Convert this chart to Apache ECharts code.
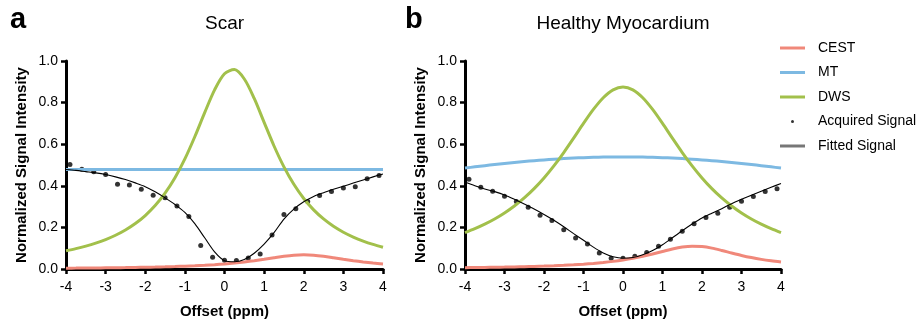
<!DOCTYPE html>
<html><head><meta charset="utf-8">
<script src="https://cdn.jsdelivr.net/npm/echarts@6/dist/echarts.min.js"></script>
<style>html,body{margin:0;padding:0;background:#fff}#c{width:921px;height:324px}</style>
</head><body><div id="c"></div>
<script>
// Offsets (ppm) for modelled curves
const offsets = [-4,-3.75,-3.5,-3.25,-3,-2.75,-2.5,-2.25,-2,-1.75,-1.5,-1.25,-1,-0.75,-0.5,-0.25,0,0.25,0.5,0.75,1,1.25,1.5,1.75,2,2.25,2.5,2.75,3,3.25,3.5,3.75,4];
// Offsets (ppm) for acquired samples
const acqOffsets = [-3.9,-3.6,-3.3,-3.0,-2.7,-2.4,-2.1,-1.8,-1.5,-1.2,-0.9,-0.6,-0.3,0,0.3,0.6,0.9,1.2,1.5,1.8,2.1,2.4,2.7,3.0,3.3,3.6,3.9];

// Panel a: Scar
const scarCEST = [0.004,0.0043,0.0047,0.0051,0.0056,0.0062,0.0068,0.0075,0.0084,0.0094,0.0106,0.0119,0.0136,0.0156,0.018,0.0209,0.0245,0.0288,0.034,0.0401,0.0471,0.0544,0.0612,0.0662,0.068,0.0662,0.0612,0.0544,0.0471,0.0401,0.034,0.0288,0.0245];
const scarMT = [0.478,0.478,0.478,0.478,0.478,0.478,0.478,0.478,0.478,0.478,0.478,0.478,0.478,0.478,0.478,0.478,0.478,0.478,0.478,0.478,0.478,0.478,0.478,0.478,0.478,0.478,0.478,0.478,0.478,0.478,0.478,0.478,0.478];
const scarDWS = [0.0875,0.0978,0.1099,0.1242,0.1414,0.1622,0.1875,0.2185,0.257,0.3048,0.3645,0.4386,0.5292,0.6358,0.7518,0.8614,0.9388,0.9587,0.9135,0.8198,0.705,0.5914,0.491,0.4071,0.339,0.2844,0.2406,0.2053,0.1767,0.1534,0.1342,0.1182,0.1048];
const scarFit = [0.478,0.474,0.468,0.462,0.454,0.443,0.430,0.414,0.396,0.371,0.342,0.310,0.272,0.218,0.150,0.082,0.040,0.035,0.046,0.076,0.120,0.175,0.240,0.288,0.323,0.349,0.367,0.383,0.398,0.413,0.428,0.443,0.457];
const scarAcq = [0.503,0.480,0.468,0.454,0.408,0.404,0.384,0.354,0.343,0.303,0.252,0.113,0.056,0.042,0.041,0.053,0.072,0.164,0.262,0.290,0.325,0.353,0.373,0.390,0.396,0.434,0.449];

// Panel b: Healthy Myocardium
const healthyCEST = [0.0065,0.007,0.0077,0.0084,0.0092,0.0101,0.0112,0.0125,0.014,0.0157,0.0178,0.0203,0.0233,0.0269,0.0313,0.0367,0.0433,0.0513,0.061,0.0722,0.0843,0.0962,0.1055,0.1099,0.1079,0.1003,0.0892,0.077,0.0653,0.055,0.0463,0.0392,0.0333];
const healthyMT = [0.4851,0.4911,0.4967,0.5022,0.5073,0.5121,0.5166,0.5207,0.5244,0.5278,0.5307,0.5332,0.5353,0.5369,0.5381,0.5388,0.539,0.5388,0.5381,0.5369,0.5353,0.5332,0.5307,0.5278,0.5244,0.5207,0.5166,0.5121,0.5073,0.5022,0.4967,0.4911,0.4851];
const healthyDWS = [0.175,0.1938,0.2154,0.2403,0.2692,0.3027,0.3415,0.3862,0.4375,0.4956,0.56,0.6292,0.7,0.7671,0.8235,0.8615,0.875,0.8615,0.8235,0.7671,0.7,0.6292,0.56,0.4956,0.4375,0.3862,0.3415,0.3027,0.2692,0.2403,0.2154,0.1938,0.175];
const healthyFit = [0.418,0.400,0.385,0.372,0.356,0.335,0.312,0.288,0.262,0.234,0.203,0.170,0.138,0.105,0.077,0.059,0.052,0.055,0.068,0.089,0.117,0.150,0.184,0.216,0.245,0.268,0.290,0.314,0.335,0.355,0.374,0.393,0.411];
const healthyAcq = [0.431,0.393,0.374,0.350,0.324,0.297,0.258,0.233,0.189,0.149,0.120,0.077,0.052,0.052,0.061,0.079,0.109,0.143,0.182,0.217,0.248,0.268,0.297,0.326,0.348,0.373,0.386];

const xTicks = ['-4','-3','-2','-1','0','1','2','3','4'];
const yTicks = ['0.0','0.2','0.4','0.6','0.8','1.0'];
const seriesNames = ['CEST','MT','DWS','Acquired Signal','Fitted Signal'];
const panelTitles = ['Scar','Healthy Myocardium'];

const C_CEST = '#f0887a', C_MT = '#7db9e2', C_DWS = '#a2c04b';
const FONT = 'Liberation Sans, Arial, Helvetica, sans-serif';

function pair(xs, ys){ return xs.map((x,i)=>[x, ys[i]]); }

function xAxisDef(gi){
  return {
    type:'value', gridIndex:gi, min:-4, max:4, interval:1,
    name:'Offset (ppm)', nameLocation:'middle', nameGap:35,
    nameTextStyle:{fontFamily:FONT, fontWeight:'bold', fontSize:15, color:'#000'},
    axisLine:{onZero:false, lineStyle:{color:'#000', width:3}},
    axisTick:{show:true, length:5, lineStyle:{color:'#000', width:2.5}},
    axisLabel:{fontFamily:FONT, fontSize:14, color:'#000', margin:11,
      formatter:(v)=>xTicks[Math.round(v)+4]},
    splitLine:{show:false}
  };
}
function yAxisDef(gi){
  return {
    type:'value', gridIndex:gi, min:0, max:1, interval:0.2,
    name:'Normalized Signal Intensity', nameLocation:'middle', nameGap:37, nameRotate:90,
    nameTextStyle:{fontFamily:FONT, fontWeight:'bold', fontSize:15, color:'#000'},
    axisLine:{onZero:false, lineStyle:{color:'#000', width:3}},
    axisTick:{show:true, length:5, lineStyle:{color:'#000', width:2.5}},
    axisLabel:{fontFamily:FONT, fontSize:14, color:'#000', margin:8,
      formatter:(v)=>yTicks[Math.round(v*5)]},
    splitLine:{show:false}
  };
}
function panelSeries(gi, cest, mt, dws, acq, fit){
  const base = {xAxisIndex:gi, yAxisIndex:gi, showSymbol:false, symbol:'none', smooth:0.3, animation:false};
  return [
    Object.assign({}, base, {name:'CEST', type:'line', data:pair(offsets, cest), lineStyle:{color:C_CEST, width:3}, itemStyle:{color:C_CEST}}),
    Object.assign({}, base, {name:'MT', type:'line', data:pair(offsets, mt), lineStyle:{color:C_MT, width:3}, itemStyle:{color:C_MT}}),
    Object.assign({}, base, {name:'DWS', type:'line', data:pair(offsets, dws), lineStyle:{color:C_DWS, width:3}, itemStyle:{color:C_DWS}}),
    {name:'Acquired Signal', type:'scatter', xAxisIndex:gi, yAxisIndex:gi, data:pair(acqOffsets, acq), symbol:'circle', symbolSize:5, itemStyle:{color:'#000'}, animation:false},
    Object.assign({}, base, {name:'Fitted Signal', type:'line', data:pair(offsets, fit), lineStyle:{color:'#000', width:1.1}, itemStyle:{color:'#000'}})
  ];
}

const chart = echarts.init(document.getElementById('c'), null, {renderer:'canvas'});
chart.setOption({
  backgroundColor:'#fff',
  animation:false,
  title:[
    {text:'a', left:10, top:5, padding:0, textStyle:{fontFamily:FONT, fontWeight:'bold', fontSize:29, color:'#000'}},
    {text:panelTitles[0], left:224.5, textAlign:'center', top:14, padding:0, textStyle:{fontFamily:FONT, fontWeight:'normal', fontSize:19, color:'#000'}},
    {text:'b', left:405, top:5, padding:0, textStyle:{fontFamily:FONT, fontWeight:'bold', fontSize:29, color:'#000'}},
    {text:panelTitles[1], left:623, textAlign:'center', top:14, padding:0, textStyle:{fontFamily:FONT, fontWeight:'normal', fontSize:19, color:'#000'}}
  ],
  legend:{
    orient:'vertical', left:780, top:41, padding:0, itemWidth:25, itemHeight:3, itemGap:10.5,
    textStyle:{fontFamily:FONT, fontSize:14, color:'#000', padding:[0,0,0,8]},
    selectedMode:false,
    data:[
      {name:seriesNames[0], icon:'rect', itemStyle:{color:C_CEST}},
      {name:seriesNames[1], icon:'rect', itemStyle:{color:C_MT}},
      {name:seriesNames[2], icon:'rect', itemStyle:{color:C_DWS}},
      {name:seriesNames[3], icon:'circle', itemStyle:{color:'#000'}},
      {name:seriesNames[4], icon:'rect', itemStyle:{color:'#777'}}
    ]
  },
  grid:[
    {left:66, top:61, width:317, height:210, containLabel:false},
    {left:465, top:61, width:316, height:210, containLabel:false}
  ],
  xAxis:[xAxisDef(0), xAxisDef(1)],
  yAxis:[yAxisDef(0), yAxisDef(1)],
  series: panelSeries(0, scarCEST, scarMT, scarDWS, scarAcq, scarFit)
    .concat(panelSeries(1, healthyCEST, healthyMT, healthyDWS, healthyAcq, healthyFit))
});
</script></body></html>
